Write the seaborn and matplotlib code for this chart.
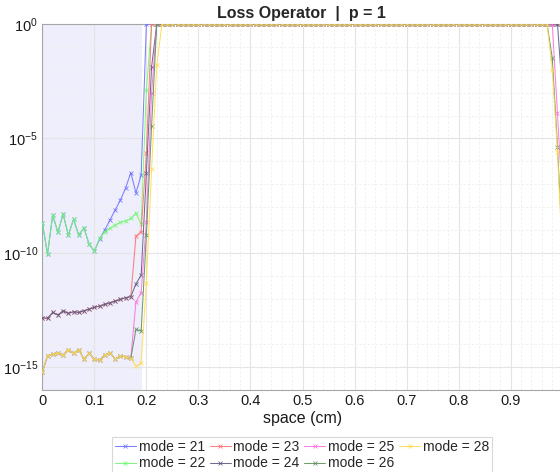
import numpy as np
import pandas as pd
import matplotlib
matplotlib.use("Agg")
import matplotlib.pyplot as plt
import seaborn as sns
from matplotlib.ticker import FixedLocator, NullFormatter, MultipleLocator

# ---- data (log10 of the loss value) ----
space = np.linspace(0.0, 1.0, 101)  # spatial grid (cm)

navy_left = [-12.84, -12.87, -12.61, -12.72, -12.54, -12.65, -12.58, -12.61, -12.54, -12.46,
             -12.39, -12.33, -12.26, -12.19, -12.11, -12.04, -11.97, -11.92]
yellow_left = [-15.23, -14.50, -14.43, -14.40, -14.47, -14.23, -14.40, -14.23, -14.65, -14.40,
               -14.66, -14.69, -14.47, -14.37, -14.65, -14.50, -14.55, -14.62]
green_left = [-8.69, -10.06, -8.35, -9.11, -8.31, -9.23, -8.54, -9.23, -8.91, -9.63]

mode21 = green_left + [-9.93, -9.41, -9.01, -8.57, -8.13, -7.70, -7.18, -6.50, -7.38, -6.60] + [0.0] * 81
mode22 = green_left + [-9.93, -9.37, -9.08, -8.93, -8.79, -8.67, -8.61, -8.50, -8.26, -8.76,
                       -2.89] + [0.0] * 80
mode23 = navy_left + [-9.27, -9.08, -5.62] + [0.0] * 80
mode24 = navy_left + [-11.36, -10.98, -6.53, -1.87] + [0.0] * 78 + [-3.2]
mode25 = yellow_left + [-12.14, -11.75, -8.64, -3.03] + [0.0] * 77 + [-3.91, -8.0]
mode26 = yellow_left + [-13.35, -13.42, -9.23, -4.46] + [0.0] * 76 + [-1.50, -5.36, -10.0]
mode28 = yellow_left + [-14.94, -14.84, -11.34, -6.34, -1.79] + [0.0] * 75 + [-2.01, -5.58, -10.5]

modes = ["mode = 21", "mode = 22", "mode = 23", "mode = 24", "mode = 25", "mode = 26", "mode = 28"]
series = [mode21, mode22, mode23, mode24, mode25, mode26, mode28]
colors = ["#7070ff", "#70f870", "#ff7070", "#5c5c84", "#ff70e0", "#5f905f", "#ffdc50"]

y_major = [1e-15, 1e-10, 1e-5, 1e0]
y_labels = [r"$10^{-15}$", r"$10^{-10}$", r"$10^{-5}$", r"$10^{0}$"]
x_major = [0, 0.1, 0.2, 0.3, 0.4, 0.5, 0.6, 0.7, 0.8, 0.9]
x_labels = ["0", "0.1", "0.2", "0.3", "0.4", "0.5", "0.6", "0.7", "0.8", "0.9"]
shade_end = 0.192

rows = []
for name, vals in zip(modes, series):
    for xv, lv in zip(space, vals):
        rows.append((name, xv, 10.0 ** lv))
df = pd.DataFrame(rows, columns=["mode", "space", "loss"])

# ---- plot ----
sns.set_style("white")
plt.rcParams["font.family"] = ["Liberation Sans", "DejaVu Sans"]
plt.rcParams["mathtext.fontset"] = "custom"
plt.rcParams["mathtext.rm"] = "Liberation Sans"
plt.rcParams["mathtext.it"] = "Liberation Sans:italic"

fig = plt.figure(figsize=(5.6, 4.72), dpi=100)
ax = fig.add_axes([42.3 / 560, 1 - 390 / 472, 520.4 / 560, 366 / 472])

ax.axvspan(0, shade_end, color="#eeeefc", zorder=0, lw=0)

for name, col in zip(modes, colors):
    sub = df[df["mode"] == name]
    sns.lineplot(data=sub, x="space", y="loss", ax=ax, color=col, marker="x",
                 markersize=2.6, markeredgewidth=0.6, markeredgecolor=col,
                 markerfacecolor=col, linewidth=0.75, alpha=0.9, label=name,
                 estimator=None, sort=False, zorder=3)

ax.set_yscale("log")
ax.set_ylim(1e-16, 1.0)
ax.set_xlim(0, 1.0)

ax.set_yticks(y_major)
ax.set_yticklabels(y_labels)
ax.yaxis.set_minor_locator(FixedLocator([10.0 ** k for k in range(-16, 1)]))
ax.yaxis.set_minor_formatter(NullFormatter())
ax.set_xticks(x_major)
ax.set_xticklabels(x_labels)
ax.xaxis.set_minor_locator(MultipleLocator(0.02))

ax.grid(True, which="major", color="#e4e4e4", linewidth=0.8, zorder=1)
ax.grid(True, which="minor", color="#efefef", linewidth=0.6, linestyle=(0, (3, 2)), zorder=1)
ax.set_axisbelow(True)

ax.tick_params(axis="both", which="major", direction="in", length=4, color="#8a8a8a",
               labelsize=10.5, labelcolor="#1a1a1a", pad=3)
ax.tick_params(axis="both", which="minor", length=0)
for side in ["left", "bottom", "top"]:
    ax.spines[side].set_color("#a6a6a6")
    ax.spines[side].set_linewidth(0.8)
ax.spines["right"].set_visible(False)

ax.set_xlabel("space (cm)", fontsize=11.5, color="#1a1a1a", labelpad=2)
ax.set_ylabel("")
ax.set_title("Loss Operator  |  p = 1", fontsize=11.5, fontweight="bold", pad=4,
             x=(301 - 42.3) / 520.4)

leg = ax.legend(loc="upper center", bbox_to_anchor=((302 - 42.3) / 520.4, -0.128), ncol=4,
                fontsize=10, frameon=True, fancybox=False, handlelength=1.5,
                handletextpad=0.2, columnspacing=0.35, labelspacing=0.2,
                borderpad=0.2, borderaxespad=0)
leg.get_frame().set_edgecolor("#cfcfcf")
leg.get_frame().set_linewidth(0.8)

fig.savefig("out.png", dpi=100)
